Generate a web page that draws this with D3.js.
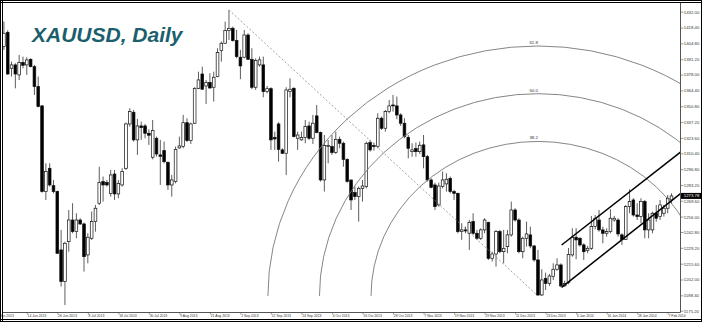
<!DOCTYPE html>
<html>
<head>
<meta charset="utf-8">
<script src="https://cdn.jsdelivr.net/npm/d3@7"></script>
<style>
html, body { margin: 0; padding: 0; background: #fff; }
svg { display: block; }
</style>
</head>
<body>
<div id="chart"></div>
<script>
// XAUUSD daily bars, bar 0 = 6 Jun 2013 ... bar 175 = 10 Feb 2014
const opens = [1402.0,1414.3,1383.4,1386.3,1377.7,1388.3,1386.3,1391.1,1384.8,1367.7,
  1351.1,1277.5,1297.5,1282.6,1277.5,1227.4,1200.2,1234.5,1253.1,1243.1,
  1253.1,1249.7,1223.1,1237.4,1251.7,1267.5,1286.1,1285.2,1276.0,1292.6,
  1275.5,1283.2,1297.5,1335.6,1345.6,1321.9,1333.9,1333.9,1327.6,1307.0,
  1323.3,1309.0,1312.7,1302.7,1283.2,1286.1,1315.0,1316.1,1336.7,1321.3,
  1336.2,1366.2,1378.5,1368.2,1371.1,1367.1,1376.3,1398.6,1404.9,1415.8,
  1417.8,1407.2,1392.9,1392.9,1412.0,1391.1,1367.1,1386.3,1386.3,1363.4,
  1365.9,1324.1,1335.6,1313.3,1310.4,1363.4,1366.2,1323.3,1321.9,1324.1,
  1333.9,1323.3,1342.5,1328.2,1287.5,1316.1,1316.1,1311.0,1322.4,1319.0,
  1305.2,1287.5,1276.6,1273.2,1280.3,1281.8,1319.6,1317.0,1316.1,1340.5,
  1331.9,1346.2,1351.9,1351.1,1343.3,1336.2,1324.1,1311.8,1314.4,1311.8,
  1317.6,1307.5,1287.5,1283.2,1266.0,1281.8,1284.1,1288.9,1277.5,1276.0,
  1243.1,1244.6,1241.7,1251.7,1241.7,1237.4,1244.6,1250.9,1220.2,1223.9,
  1243.1,1225.9,1230.2,1240.3,1261.7,1253.1,1225.9,1237.4,1240.3,1230.8,
  1218.8,1188.7,1203.0,1198.7,1204.5,1210.8,1214.5,1196.5,1199.3,1223.1,
  1238.3,1237.4,1231.7,1226.8,1228.8,1247.4,1253.1,1244.6,1241.7,1243.1,
  1253.1,1253.1,1240.3,1236.5,1264.6,1270.3,1257.4,1256.0,1268.9,1244.6,
  1244.6,1258.9,1256.0,1258.9,1263.2,1270.3];
const highs = [1423.5,1416.0,1389.1,1387.7,1394.9,1393.4,1392.9,1392.0,1386.3,1376.3,
  1351.9,1301.8,1301.8,1287.5,1278.3,1244.6,1234.5,1261.7,1267.5,1258.9,
  1254.6,1250.9,1241.7,1260.3,1266.0,1298.9,1290.4,1287.5,1296.1,1296.1,
  1287.5,1297.5,1336.7,1349.1,1347.6,1340.0,1337.6,1335.6,1331.0,1339.0,
  1324.7,1321.9,1320.4,1303.2,1291.8,1316.1,1324.7,1343.3,1340.5,1336.7,
  1367.1,1380.5,1384.8,1373.4,1379.1,1380.5,1400.6,1406.3,1423.5,1433.5,
  1419.2,1416.3,1399.2,1416.3,1413.5,1400.6,1392.0,1393.4,1393.4,1368.2,
  1367.1,1329.0,1337.0,1314.7,1367.1,1374.8,1367.1,1329.0,1329.0,1339.0,
  1337.6,1343.3,1351.9,1329.0,1326.1,1321.9,1326.1,1329.0,1324.7,1320.4,
  1306.1,1287.5,1281.8,1281.8,1287.5,1320.4,1321.9,1319.6,1344.8,1341.9,
  1347.6,1356.2,1360.5,1359.1,1344.8,1340.5,1326.1,1319.0,1319.6,1320.4,
  1326.1,1309.0,1288.9,1285.2,1285.2,1294.7,1293.2,1290.4,1278.9,1276.6,
  1250.3,1247.4,1253.1,1258.9,1244.6,1246.0,1254.6,1251.7,1225.9,1244.6,
  1244.6,1244.6,1244.6,1268.9,1263.2,1254.6,1238.8,1251.7,1247.4,1231.7,
  1227.4,1210.8,1207.9,1206.8,1215.9,1220.2,1215.9,1201.0,1229.0,1246.0,
  1246.0,1238.3,1233.1,1230.8,1256.6,1257.4,1261.7,1247.4,1246.0,1262.3,
  1256.6,1254.6,1241.7,1266.0,1279.5,1271.8,1267.5,1271.8,1270.3,1258.9,
  1260.3,1266.0,1270.3,1266.0,1274.6,1276.0];
const lows = [1399.2,1377.7,1376.3,1366.2,1373.4,1383.4,1377.7,1384.3,1360.5,1349.9,
  1276.6,1270.3,1281.8,1276.0,1223.9,1195.9,1180.1,1225.9,1241.7,1237.4,
  1248.8,1208.8,1215.9,1236.0,1243.1,1266.0,1268.9,1281.8,1273.2,1270.3,
  1271.8,1281.8,1296.1,1333.3,1320.4,1309.0,1321.9,1323.3,1317.6,1305.2,
  1307.5,1283.2,1301.8,1278.9,1273.2,1284.6,1314.4,1314.7,1320.1,1318.4,
  1335.6,1365.4,1364.8,1352.8,1365.9,1354.8,1375.7,1389.1,1404.3,1407.7,
  1406.3,1392.0,1374.0,1392.0,1390.6,1365.4,1364.8,1384.8,1358.5,1361.9,
  1313.3,1313.3,1303.2,1309.8,1291.8,1358.5,1324.1,1313.3,1321.3,1319.0,
  1321.9,1318.4,1327.6,1286.1,1277.5,1301.8,1309.0,1309.8,1314.7,1298.9,
  1285.2,1261.7,1270.3,1251.7,1268.9,1280.3,1311.8,1312.7,1314.7,1330.4,
  1329.0,1344.8,1346.2,1339.6,1333.9,1323.3,1306.1,1307.5,1307.5,1309.8,
  1297.5,1286.1,1280.3,1261.7,1264.6,1280.3,1277.5,1276.0,1270.3,1241.7,
  1236.0,1241.7,1227.4,1240.3,1236.0,1236.0,1241.7,1218.8,1217.4,1213.1,
  1224.5,1215.9,1224.5,1238.8,1251.7,1224.5,1220.2,1230.2,1228.8,1217.4,
  1187.9,1187.9,1193.0,1196.5,1201.6,1209.6,1195.3,1195.9,1198.0,1221.6,
  1219.4,1230.2,1218.8,1224.5,1227.4,1245.1,1243.1,1233.1,1238.8,1241.7,
  1251.7,1238.8,1231.7,1236.0,1258.9,1256.0,1253.1,1250.3,1237.4,1237.4,
  1241.7,1251.7,1253.1,1256.0,1258.9,1267.5];
const closes = [1413.5,1378.5,1386.3,1378.5,1388.3,1386.0,1390.6,1384.8,1367.7,1350.5,
  1277.5,1294.7,1283.2,1277.5,1224.5,1200.2,1233.1,1253.1,1243.1,1253.1,
  1249.7,1221.6,1238.3,1251.7,1263.2,1285.2,1283.2,1283.2,1291.8,1275.5,
  1284.6,1294.7,1335.6,1346.2,1321.9,1333.9,1332.4,1327.6,1325.9,1329.9,
  1309.8,1307.8,1303.2,1283.2,1287.5,1313.8,1316.7,1336.7,1321.3,1335.6,
  1366.2,1373.4,1365.4,1371.1,1366.5,1375.7,1396.9,1404.9,1415.8,1417.5,
  1407.2,1393.4,1385.4,1412.0,1391.1,1367.1,1390.0,1390.6,1363.4,1365.9,
  1321.9,1322.7,1313.8,1310.4,1364.8,1365.4,1324.7,1326.1,1323.9,1333.3,
  1323.3,1336.2,1328.2,1287.5,1317.0,1317.0,1311.0,1322.4,1319.0,1305.2,
  1286.1,1270.3,1273.2,1280.3,1282.3,1319.0,1313.3,1316.1,1340.5,1331.9,
  1346.2,1351.1,1351.1,1343.3,1336.2,1324.7,1314.7,1313.3,1311.8,1317.3,
  1307.5,1287.5,1281.2,1264.6,1282.3,1287.5,1288.1,1277.5,1276.0,1243.1,
  1244.6,1243.7,1250.9,1241.7,1237.4,1244.6,1253.1,1220.2,1223.9,1243.1,
  1225.9,1228.8,1240.3,1261.7,1253.1,1225.9,1237.4,1241.1,1230.8,1218.8,
  1188.7,1201.6,1198.7,1205.0,1210.8,1214.5,1196.5,1198.7,1223.5,1238.3,
  1236.0,1231.7,1225.9,1228.8,1247.4,1254.6,1244.6,1241.7,1243.1,1254.6,
  1254.6,1241.1,1236.5,1264.6,1268.9,1257.4,1256.0,1268.9,1244.6,1253.1,
  1258.9,1254.6,1266.0,1263.2,1271.8,1273.78];

// time axis: one label every 8 bars, first one two bars before bar 0
const timeLabels = ['4 Jun 2013', '14 Jun 2013', '26 Jun 2013', '8 Jul 2013', '18 Jul 2013',
  '30 Jul 2013', '9 Aug 2013', '21 Aug 2013', '2 Sep 2013', '12 Sep 2013', '24 Sep 2013',
  '4 Oct 2013', '16 Oct 2013', '28 Oct 2013', '7 Nov 2013', '19 Nov 2013', '29 Nov 2013',
  '11 Dec 2013', '23 Dec 2013', '6 Jan 2014', '16 Jan 2014', '28 Jan 2014', '7 Feb 2014'];
const timeLabelFirstBar = -2;
const timeLabelStep = 8;

const priceLabels = ['1432.00', '1418.40', '1404.80', '1391.20', '1378.00', '1364.40', '1350.80',
  '1337.20', '1323.60', '1310.40', '1296.80', '1283.20', '1269.60', '1256.00', '1242.80',
  '1229.20', '1215.60', '1202.00', '1188.40', '1175.20'];

// objects drawn on the chart (bar index, price)
const trendHigh = { bar: 59, price: 1433.5 };
const trendLow = { bar: 140, price: 1187.9 };
const fibLevels = [0.382, 0.5, 0.618];
const fibNames = ['38.2', '50.0', '61.8'];
const channelUpper = [{ bar: 146.2, price: 1231.6 }, { bar: 170, price: 1292.5 }];
const channelLower = [{ bar: 146.2, price: 1195.3 }, { bar: 170, price: 1256.8 }];

const width = 702;
const height = 322;
const plot = { left: 2.5, top: 2.5, right: 680.5, bottom: 312.5 };
const lastPrice = closes[closes.length - 1];

const bars = closes.map((c, i) => ({ i: i, o: opens[i], h: highs[i], l: lows[i], c: c }));

const x = d3.scaleLinear().domain([0, bars.length - 1]).range([3.9, 671.5]);
const y = d3.scaleLinear().domain([1175.2, 1432]).range([310.7, 11.7]);

const svg = d3.select('#chart')
    .append('svg')
    .attr('width', width)
    .attr('height', height)
    .style('font-family', '"Liberation Sans", Arial, sans-serif');

svg.append('rect').attr('width', width).attr('height', height).attr('fill', '#fff');

svg.append('clipPath').attr('id', 'plot-clip')
    .append('rect')
    .attr('x', plot.left).attr('y', plot.top)
    .attr('width', plot.right - plot.left).attr('height', plot.bottom - plot.top);

const g = svg.append('g').attr('clip-path', 'url(#plot-clip)');

// Title
g.append('text')
    .attr('x', 32)
    .attr('y', 42)
    .attr('font-size', 21)
    .attr('font-weight', 'bold')
    .attr('font-style', 'italic')
    .attr('fill', '#1b5f6c')
    .text('XAUUSD, Daily');

// Candles
const bw = 2.7;
const candle = g.selectAll('g.candle')
    .data(bars)
    .enter()
    .append('g')
    .attr('class', 'candle');

candle.append('line')
    .attr('x1', d => x(d.i)).attr('x2', d => x(d.i))
    .attr('y1', d => y(Math.max(d.h, d.o, d.c)))
    .attr('y2', d => y(Math.min(d.l, d.o, d.c)))
    .attr('stroke', '#333')
    .attr('stroke-width', 0.8);

candle.append('rect')
    .attr('x', d => x(d.i) - bw / 2)
    .attr('width', bw)
    .attr('y', d => y(Math.max(d.o, d.c)))
    .attr('height', d => Math.max(0.8, y(Math.min(d.o, d.c)) - y(Math.max(d.o, d.c))))
    .attr('fill', d => d.c >= d.o ? '#fff' : '#000')
    .attr('stroke', '#111')
    .attr('stroke-width', 0.7);

// Dashed trend line from the top to the low
g.append('line')
    .attr('x1', x(trendHigh.bar)).attr('y1', y(trendHigh.price))
    .attr('x2', x(trendLow.bar)).attr('y2', y(trendLow.price))
    .attr('stroke', '#8a8a8a')
    .attr('stroke-width', 0.8)
    .attr('stroke-dasharray', '2,2');

// Fibonacci arcs around the low
const cx = x(trendLow.bar);
const cy = y(trendLow.price);
const dx = Math.abs(cx - x(trendHigh.bar)) * Math.SQRT2;
const dy = Math.abs(cy - y(trendHigh.price)) * Math.SQRT2;

fibLevels.forEach((lv, k) => {
    const rx = dx * lv, ry = dy * lv;
    g.append('path')
        .attr('d', `M${cx - rx},${cy} A${rx},${ry} 0 0 1 ${cx + rx},${cy}`)
        .attr('fill', 'none')
        .attr('stroke', '#777')
        .attr('stroke-width', 0.9);
    g.append('text')
        .attr('x', cx)
        .attr('y', cy - ry - 2)
        .attr('text-anchor', 'end')
        .attr('font-size', 4.4)
        .attr('fill', '#333')
        .text(fibNames[k]);
});

// Channel lines, extended to the price axis
const barEnd = x.invert(plot.right);
[channelUpper, channelLower].forEach(pts => {
    const slope = (pts[1].price - pts[0].price) / (pts[1].bar - pts[0].bar);
    g.append('line')
        .attr('x1', x(pts[0].bar)).attr('y1', y(pts[0].price))
        .attr('x2', x(barEnd)).attr('y2', y(pts[0].price + slope * (barEnd - pts[0].bar)))
        .attr('stroke', '#000')
        .attr('stroke-width', 1.5);
});

// Price axis
const priceAxis = d3.axisRight(y)
    .tickValues(priceLabels.map(Number))
    .tickFormat((d, i) => priceLabels[i])
    .tickSize(3);

const pa = svg.append('g')
    .attr('transform', `translate(${plot.right},0)`)
    .call(priceAxis);
pa.select('.domain').remove();
pa.selectAll('line').attr('stroke', '#555').attr('stroke-width', 0.6);
pa.selectAll('text')
    .attr('x', 3.3)
    .attr('font-size', 4.3)
    .attr('font-family', '"Liberation Sans", Arial, sans-serif')
    .attr('fill', '#333');

// Time axis
const timeAxis = d3.axisBottom(x)
    .tickValues(timeLabels.map((t, k) => timeLabelFirstBar + k * timeLabelStep))
    .tickFormat((d, i) => timeLabels[i])
    .tickSize(2);

const ta = svg.append('g')
    .attr('transform', `translate(0,${plot.bottom})`)
    .call(timeAxis);
ta.select('.domain').remove();
ta.selectAll('line').attr('stroke', '#555').attr('stroke-width', 0.6);
ta.selectAll('text')
    .attr('text-anchor', 'start')
    .attr('x', 0.3)
    .attr('y', 2.2)
    .attr('dy', '0.71em')
    .attr('font-size', 3.4)
    .attr('font-family', '"Liberation Sans", Arial, sans-serif')
    .attr('fill', '#333');

// Frame lines
svg.append('line').attr('x1', plot.right).attr('x2', plot.right)
    .attr('y1', plot.top).attr('y2', plot.bottom).attr('stroke', '#555').attr('stroke-width', 1);
svg.append('line').attr('x1', plot.left).attr('x2', plot.right)
    .attr('y1', plot.bottom).attr('y2', plot.bottom).attr('stroke', '#555').attr('stroke-width', 1);
svg.append('line').attr('x1', 0).attr('x2', width)
    .attr('y1', plot.top).attr('y2', plot.top).attr('stroke', '#000').attr('stroke-width', 1);
svg.append('line').attr('x1', plot.left).attr('x2', plot.left)
    .attr('y1', 0).attr('y2', height).attr('stroke', '#000').attr('stroke-width', 1);
svg.append('line').attr('x1', 0).attr('x2', width)
    .attr('y1', 319.5).attr('y2', 319.5).attr('stroke', '#000').attr('stroke-width', 1);
svg.append('rect')
    .attr('x', 0.5).attr('y', 0.5)
    .attr('width', width - 1).attr('height', height - 1)
    .attr('fill', 'none').attr('stroke', '#000').attr('stroke-width', 1);

// Last price marker
svg.append('rect')
    .attr('x', plot.right + 0.5)
    .attr('y', y(lastPrice) - 3)
    .attr('width', width - plot.right - 1.5)
    .attr('height', 6)
    .attr('fill', '#000');
svg.append('text')
    .attr('x', plot.right + 3.3)
    .attr('y', y(lastPrice))
    .attr('dy', '0.35em')
    .attr('font-size', 4.3)
    .attr('fill', '#fff')
    .text(d3.format('.2f')(lastPrice));
</script>
</body>
</html>
